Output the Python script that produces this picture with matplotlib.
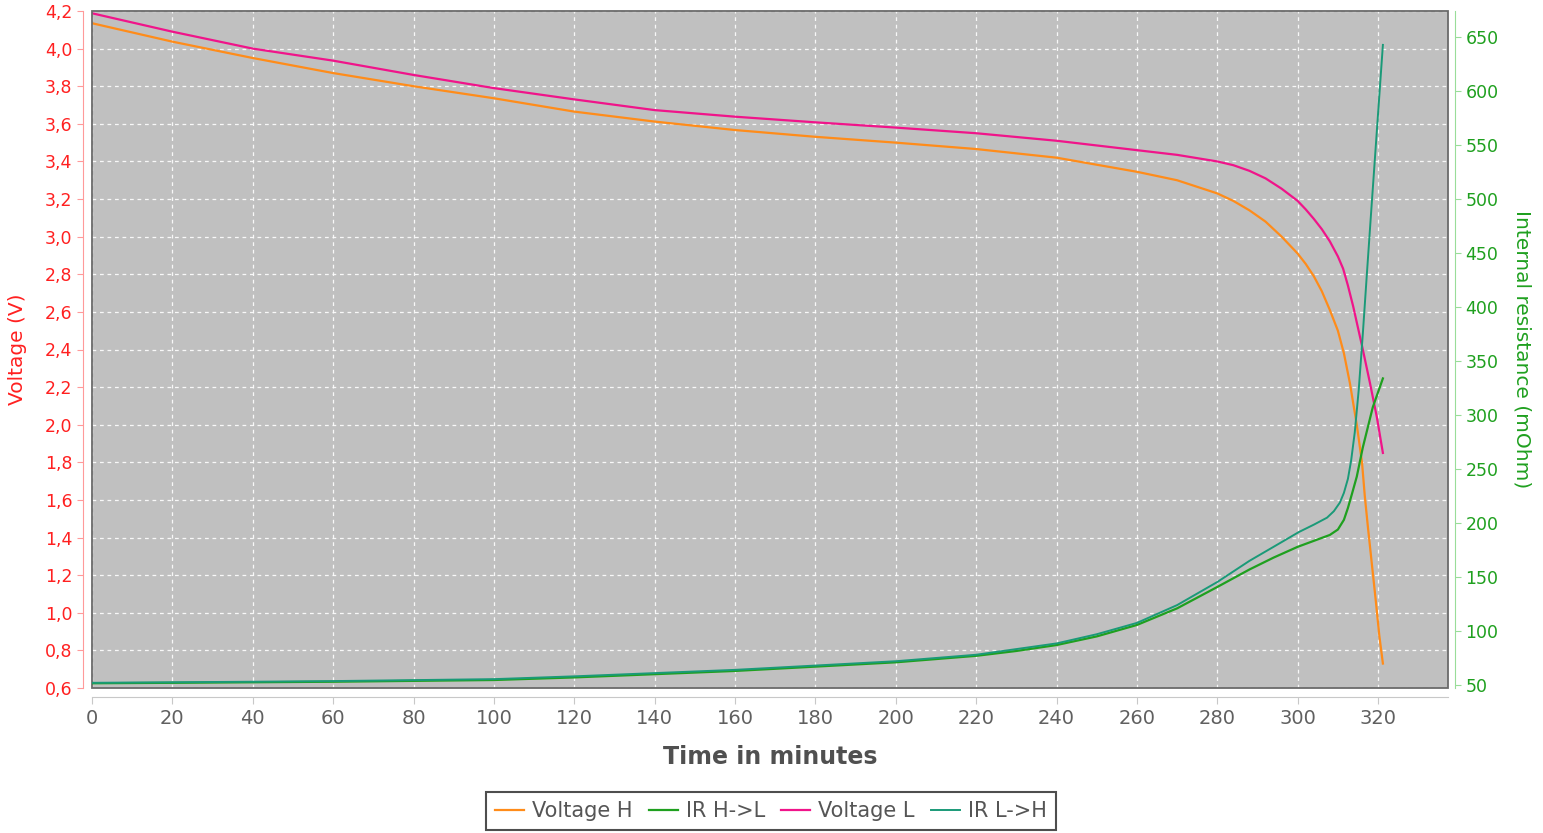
import matplotlib
matplotlib.use("Agg")
import matplotlib.pyplot as plt
from matplotlib.patches import Rectangle
from matplotlib.ticker import FuncFormatter, MultipleLocator

# Voltage H (orange)
t_vh = [0, 20, 40, 60, 80, 100, 120, 140, 160, 180, 200, 220, 240, 260, 270, 280, 284, 288,
        292, 296, 300, 302, 304, 306, 308, 310, 311.5, 313, 314.7, 316, 316.7, 317.5, 318.5,
        319.5, 320.3, 321.2]
v_h = [4.135, 4.037, 3.95, 3.87, 3.80, 3.736, 3.665, 3.612, 3.567, 3.531, 3.50, 3.466, 3.42,
       3.345, 3.30, 3.23, 3.19, 3.14, 3.08, 3.00, 2.91, 2.855, 2.79, 2.71, 2.61, 2.50, 2.38,
       2.22, 2.00, 1.80, 1.62, 1.45, 1.25, 1.05, 0.88, 0.73]

# Voltage L (pink)
t_vl = [0, 20, 40, 60, 80, 100, 120, 140, 160, 180, 200, 220, 240, 260, 270, 280, 284, 288,
        292, 296, 300, 302, 304, 306, 308, 310, 311.3, 312.5, 313.8, 316, 318, 319.7, 321.2]
v_l = [4.188, 4.09, 4.0, 3.936, 3.86, 3.79, 3.73, 3.673, 3.638, 3.608, 3.58, 3.55, 3.51, 3.46,
       3.435, 3.40, 3.38, 3.35, 3.31, 3.255, 3.19, 3.145, 3.095, 3.04, 2.975, 2.895, 2.83, 2.74,
       2.63, 2.42, 2.22, 2.04, 1.85]

# IR H->L (green)
t_hl = [0, 20, 40, 60, 100, 120, 140, 160, 180, 200, 220, 230, 240, 250, 260, 270, 280, 288,
        294, 300, 304, 308, 310, 311.5, 312.5, 313.5, 314.7, 316.2, 318.7, 321.2]
r_hl = [51.6, 52, 52.5, 53, 54.6, 57, 60, 63, 67, 71, 77, 81.5, 87, 95, 105.6, 121, 140.8, 157,
        168, 178, 183.5, 189, 194, 203, 214, 227, 243, 270, 307.5, 334]

# IR L->H (teal)
t_lh = [0, 20, 40, 60, 100, 120, 140, 160, 180, 200, 220, 240, 250, 260, 270, 280, 288, 294,
        300.3, 304, 307.3, 309, 310.5, 311.5, 312.5, 313.3, 314.2, 315.2, 316.2, 317.2, 318.2,
        319.2, 320.2, 321.2]
r_lh = [52, 52.5, 53, 53.6, 55.4, 58, 61, 64, 68, 72, 78, 88.5, 97, 107.5, 124, 145.4, 165, 178,
        191.7, 198.5, 205, 211, 219, 228, 241, 258, 284, 324, 375, 430, 484, 537, 590, 643]

C_VH, C_HL, C_VL, C_LH = "#FF8C1A", "#1FA01F", "#F0148A", "#1A9A78"
W, H = 1543, 833

fig = plt.figure(figsize=(W / 100, H / 100), dpi=100)
ax = fig.add_axes([92 / W, 1 - 688 / H, (1448 - 92) / W, (688 - 11) / H])
ax2 = ax.twinx()

ax.set_facecolor("#C0C0C0")
ax2.patch.set_visible(False)

l1, = ax.plot(t_vh, v_h, color=C_VH, lw=1.6, label="Voltage H")
l3, = ax.plot(t_vl, v_l, color=C_VL, lw=1.6, label="Voltage L")
l2, = ax2.plot(t_hl, r_hl, color=C_HL, lw=1.6, label="IR H->L")
l4, = ax2.plot(t_lh, r_lh, color=C_LH, lw=1.4, label="IR L->H")

ax.set_xlim(0, 337.4)
ax.set_ylim(0.6, 4.2)
ax2.set_ylim(47.2, 674.4)

ax.xaxis.set_major_locator(MultipleLocator(20))
ax.yaxis.set_major_locator(MultipleLocator(0.2))
ax2.yaxis.set_major_locator(MultipleLocator(50))
ax.yaxis.set_major_formatter(FuncFormatter(lambda v, _: f"{v:.1f}".replace(".", ",")))

ax.grid(True, color="white", lw=0.9, ls=(0, (3, 3)), alpha=0.9)

# spines: offset axis lines + dark frame around plot area
for a in (ax, ax2):
    for s in a.spines.values():
        s.set_visible(False)
ax.spines["left"].set_visible(True)
ax.spines["left"].set_position(("outward", 6.5))
ax.spines["left"].set_color("#FF9A9A")
ax.spines["bottom"].set_visible(True)
ax.spines["bottom"].set_position(("outward", 6.5))
ax.spines["bottom"].set_color("#C8C8C8")
ax2.spines["right"].set_visible(True)
ax2.spines["right"].set_position(("outward", 5))
ax2.spines["right"].set_color("#99DD99")
ax.add_patch(Rectangle((0, 0), 1, 1, transform=ax.transAxes, fill=False,
                       edgecolor="#6A6A6A", lw=1.3, zorder=5, clip_on=False))

ax.tick_params(axis="y", colors="#FF2020", labelsize=12.5, length=4, color="#FF9A9A")
ax.tick_params(axis="x", colors="#606060", labelsize=14, length=5, color="#C8C8C8")
ax2.tick_params(axis="y", colors="#1FA01F", labelsize=12.5, length=4, color="#99DD99")

ax.set_xlabel("Time in minutes", fontsize=17, fontweight="bold", color="#505050", labelpad=12)
ax.set_ylabel("Voltage (V)", fontsize=14.5, color="#FF2020", labelpad=13)
ax2.set_ylabel("Internal resistance (mOhm)", fontsize=14.5, color="#1FA01F",
               rotation=270, labelpad=24)

leg = fig.legend([l1, l2, l3, l4], ["Voltage H", "IR H->L", "Voltage L", "IR L->H"],
                 loc="center", bbox_to_anchor=(771 / W, 1 - 811 / H), ncol=4,
                 fontsize=15, frameon=True, fancybox=False, handlelength=1.4,
                 handletextpad=0.4, columnspacing=0.75, borderpad=0.45)
leg.get_frame().set_edgecolor("#222222")
leg.get_frame().set_linewidth(1.5)
for txt in leg.get_texts():
    txt.set_color("#555555")

fig.savefig("out.png", dpi=100)
